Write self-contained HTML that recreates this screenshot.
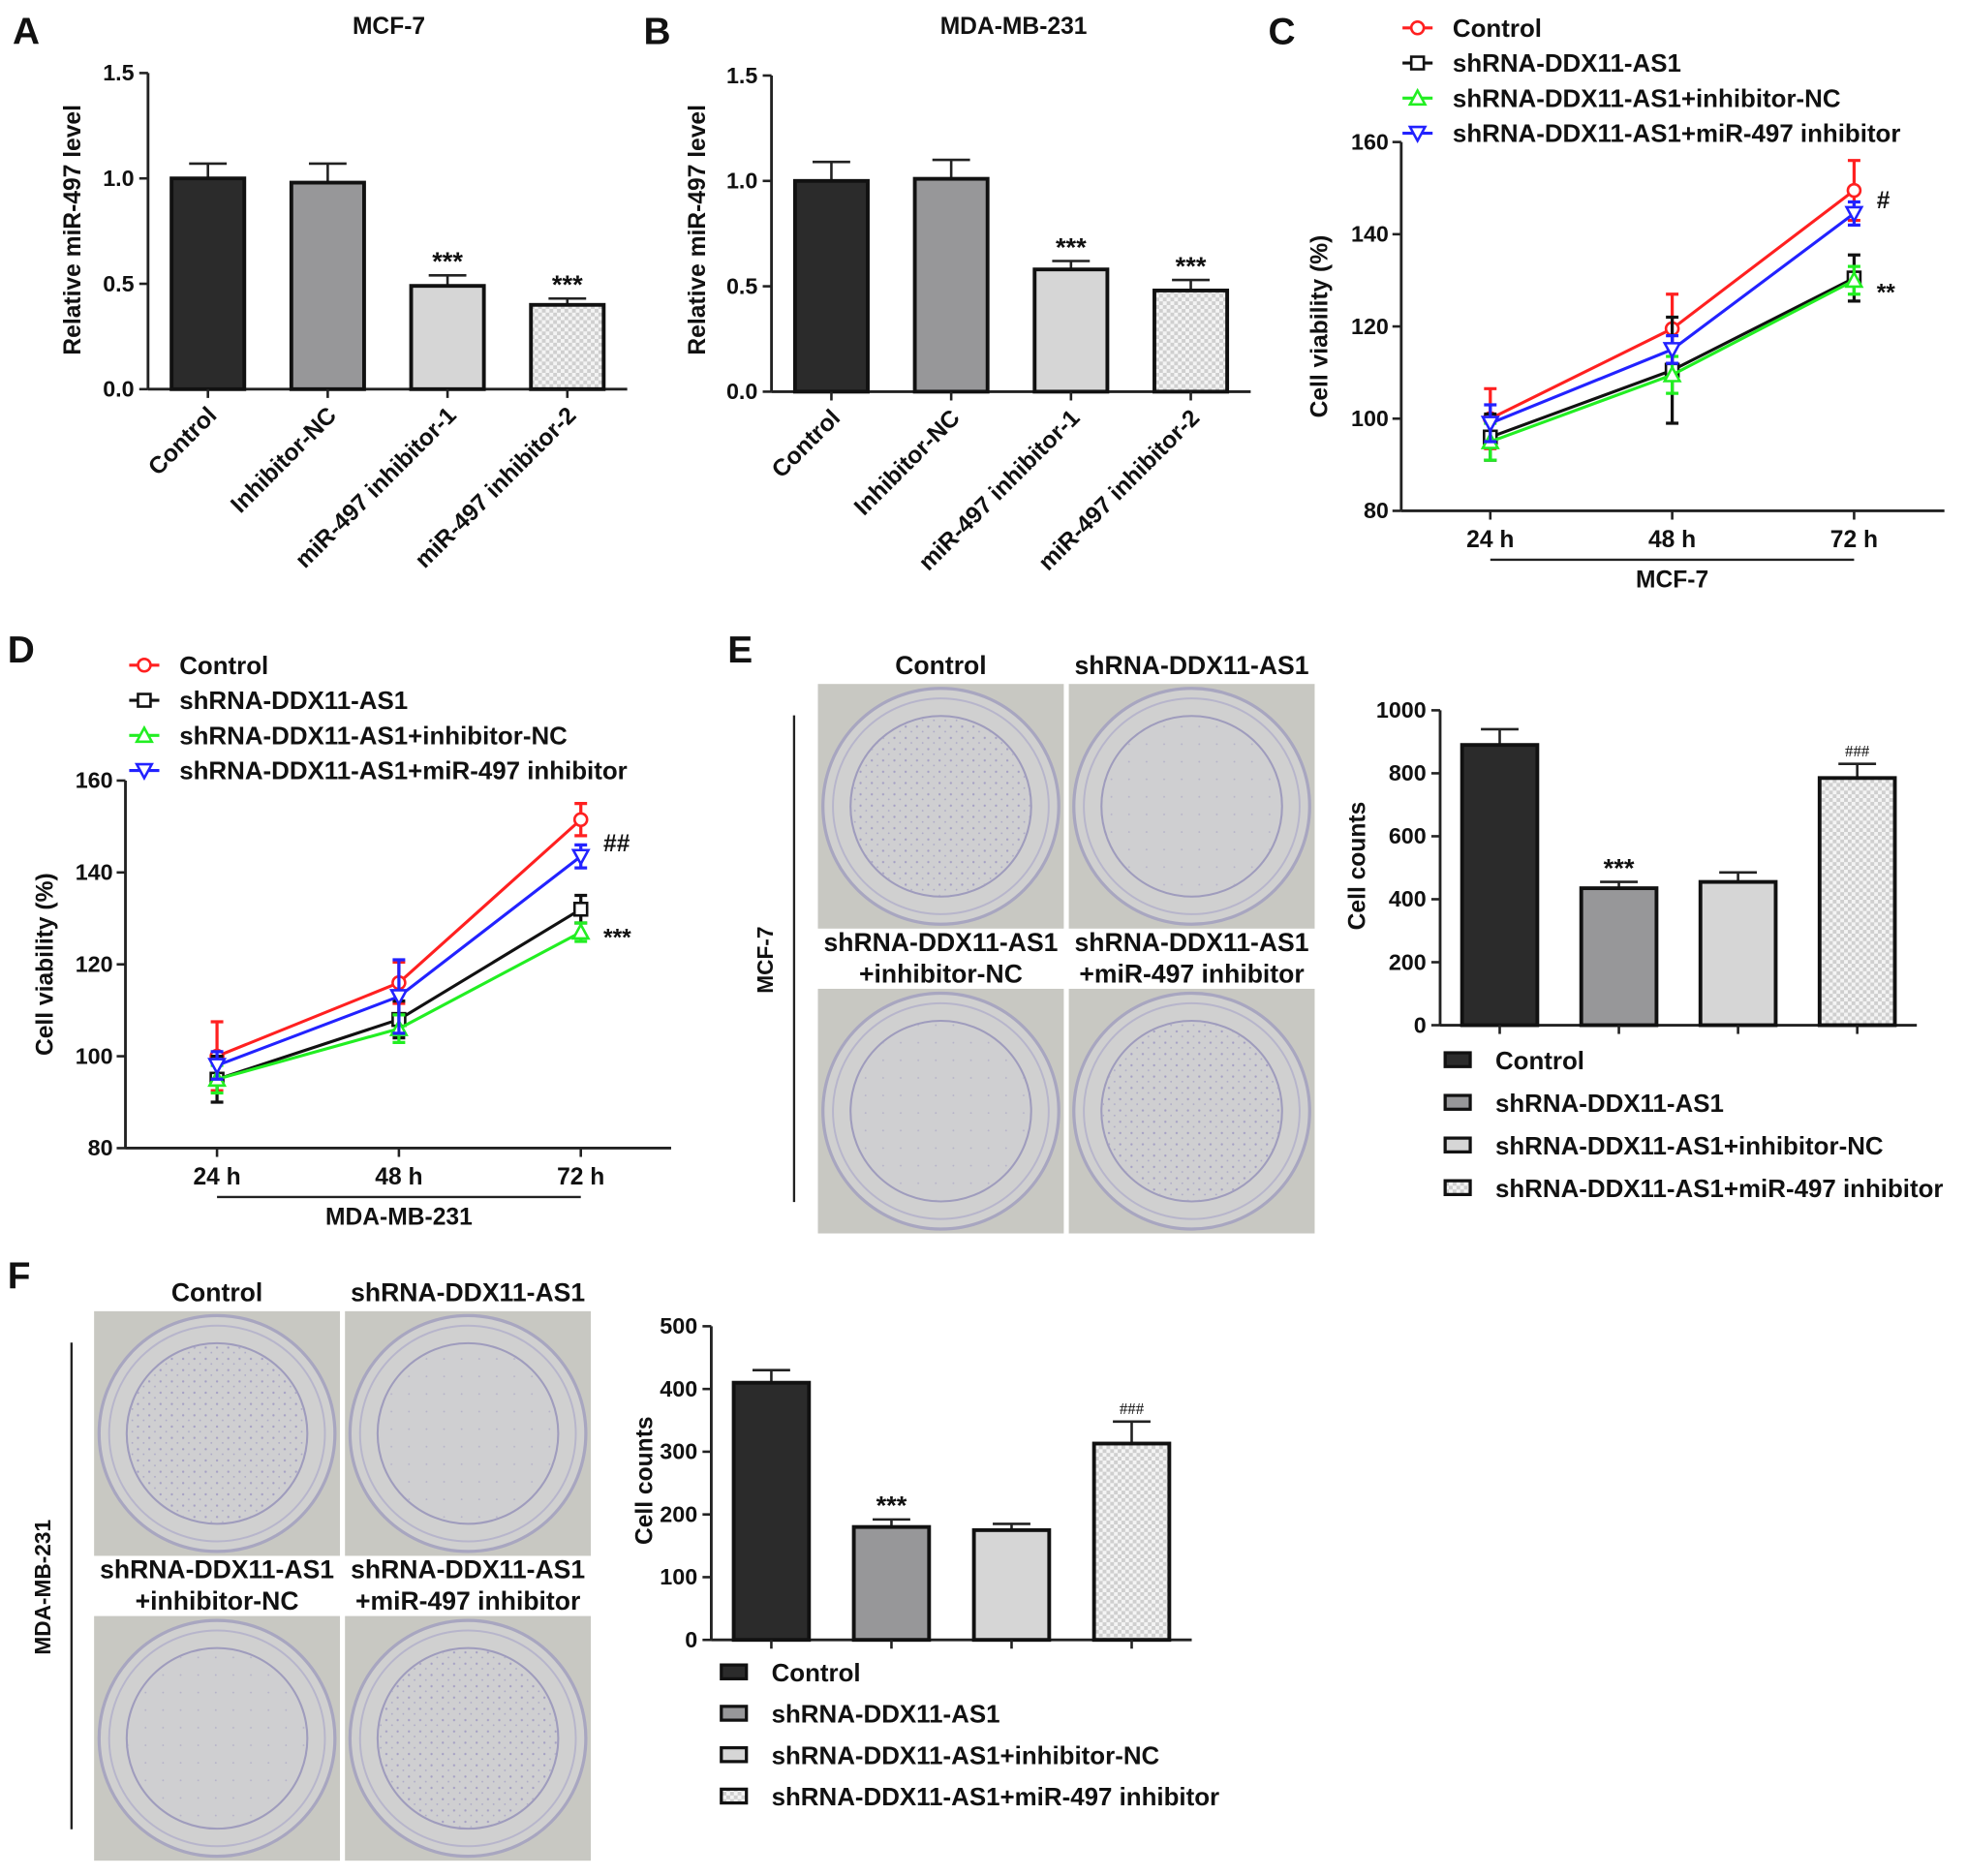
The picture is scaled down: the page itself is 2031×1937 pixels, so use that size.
<!DOCTYPE html>
<html><head><meta charset="utf-8">
<style>
html,body{margin:0;padding:0;background:#fff;}
svg{display:block;font-family:"Liberation Sans",Arial,sans-serif;font-weight:bold;}
</style></head>
<body>
<svg id="fig" width="2031" height="1937" viewBox="0 0 1568 1495" xmlns="http://www.w3.org/2000/svg">
<defs>
<pattern id="check" width="6" height="6" patternUnits="userSpaceOnUse">
<rect width="6" height="6" fill="#f4f4f4"/><rect width="3" height="3" fill="#cfcfcf"/><rect x="3" y="3" width="3" height="3" fill="#cfcfcf"/>
</pattern>
<pattern id="dots" width="9" height="9" patternUnits="userSpaceOnUse">
<circle cx="2" cy="3" r="0.9" fill="#7b72b8" opacity="0.5"/><circle cx="6.5" cy="7" r="0.7" fill="#7b72b8" opacity="0.4"/>
</pattern>
<pattern id="dotsLight" width="14" height="14" patternUnits="userSpaceOnUse">
<circle cx="4" cy="5" r="0.7" fill="#7b72b8" opacity="0.3"/>
</pattern>
</defs>
<g id="root"></g>
</svg>
<script>
// ---------- Panel A / B data ----------
const abCategories = ["Control","Inhibitor-NC","miR-497 inhibitor-1","miR-497 inhibitor-2"];
const aValues = [1.0, 0.98, 0.49, 0.40];
const aErrors = [0.07, 0.09, 0.05, 0.03];
const aMarks = ["", "", "***", "***"];
const bValues = [1.0, 1.01, 0.58, 0.48];
const bErrors = [0.09, 0.09, 0.04, 0.05];
const bMarks = ["", "", "***", "***"];
const abTicks = [0.0, 0.5, 1.0, 1.5];
const abTickLabels = ["0.0","0.5","1.0","1.5"];
// ---------- Panel C / D data ----------
const timeLabels = ["24 h","48 h","72 h"];
const seriesNames = ["Control","shRNA-DDX11-AS1","shRNA-DDX11-AS1+inhibitor-NC","shRNA-DDX11-AS1+miR-497 inhibitor"];
const cControl = [100, 119.5, 149.5];
const cControlErr = [6.5, 7.5, 6.5];
const cSh = [96, 110.5, 130.5];
const cShErr = [5, 11.5, 5];
const cNC = [95, 109.5, 130];
const cNCErr = [4, 4, 3];
const cInh = [99, 115, 144.5];
const cInhErr = [4, 3, 2.5];
const dControl = [100, 116, 151.5];
const dControlErr = [7.5, 4.5, 3.5];
const dSh = [95, 108, 132];
const dShErr = [5, 4, 3];
const dNC = [95, 106, 127];
const dNCErr = [3, 3, 2];
const dInh = [98, 113, 143.5];
const dInhErr = [3, 8, 2.5];
const viabTicks = [80, 100, 120, 140, 160];
// ---------- Panel E / F data ----------
const eValues = [890, 435, 455, 785];
const eErrors = [50, 20, 30, 45];
const eMarks = ["", "***", "", "###"];
const eTicks = [0, 200, 400, 600, 800, 1000];
const fValues = [410, 180, 175, 313];
const fErrors = [20, 12, 10, 35];
const fMarks = ["", "***", "", "###"];
const fTicks = [0, 100, 200, 300, 400, 500];

const NS = "http://www.w3.org/2000/svg";
const root = document.getElementById("root");
function mk(tag, attrs, parent, text) {
  const e = document.createElementNS(NS, tag);
  for (const k in attrs) e.setAttribute(k, attrs[k]);
  if (text !== undefined) e.textContent = text;
  (parent || root).appendChild(e);
  return e;
}
function grp(name, parent) {
  const g = mk("g", {}, parent);
  
  
  return g;
}
function txt(parent, name, x, y, s, size, anchor, extra) {
  const t = mk("text", Object.assign({x: x, y: y, "font-size": size, "text-anchor": anchor || "middle", fill: "#111"}, extra || {}), parent, s);
  
  
  return t;
}
const fills = ["#2b2b2b", "#979799", "#d6d6d6", "url(#check)"];

function barChart(id, opts, values, errors, marks, ticks, tickLabels, cats) {
  const g = grp(id);
  const y = v => opts.y0 + (opts.y1 - opts.y0) * (v - ticks[0]) / (ticks[ticks.length - 1] - ticks[0]);
  const n = values.length;
  const step = (opts.xEnd - opts.x0) / n;
  const ya = mk("line", {x1: opts.x0, y1: y(ticks[ticks.length-1]), x2: opts.x0, y2: opts.y0, stroke: "#222", "stroke-width": 2.2}, g);
   
  ticks.forEach((t, i) => {
    const tk = mk("line", {x1: opts.x0 - 7, y1: y(t), x2: opts.x0, y2: y(t), stroke: "#222", "stroke-width": 2}, g);
     
    txt(g, "y-tick-label", opts.x0 - 11, y(t) + 6, tickLabels[i], 18, "end");
  });
  const xa = mk("line", {x1: opts.x0, y1: opts.y0, x2: opts.xEnd, y2: opts.y0, stroke: "#222", "stroke-width": 2.2}, g);
   
  values.forEach((v, i) => {
    const cx = opts.x0 + step * (i + 0.5) + (opts.shift || 0);
    const bw = opts.bw;
    const top = y(v);
    const eb = mk("line", {x1: cx, y1: y(v + errors[i]), x2: cx, y2: top, stroke: "#222", "stroke-width": 2}, g);
     
    const ec = mk("line", {x1: cx - 15, y1: y(v + errors[i]), x2: cx + 15, y2: y(v + errors[i]), stroke: "#222", "stroke-width": 2}, g);
     
    const r = mk("rect", {x: cx - bw/2, y: top, width: bw, height: opts.y0 - top, fill: fills[i], stroke: "#111", "stroke-width": 3}, g);
     
    const xt = mk("line", {x1: cx, y1: opts.y0, x2: cx, y2: opts.y0 + 7, stroke: "#222", "stroke-width": 2}, g);
     
    if (marks[i]) {
      const small = marks[i].startsWith("#");
      txt(g, "significance-mark", cx, y(v + errors[i]) - (small ? 6 : 4), marks[i], small ? 13 : 21, "middle", small ? {"font-weight": "normal", "font-family": "Liberation Serif, serif"} : {});
    }
    if (cats) {
      txt(g, "x-tick-label", cx + 8, opts.y0 + 22, cats[i], 19, "end", {transform: "rotate(-45 " + (cx + 8) + " " + (opts.y0 + 22) + ")"});
    }
  });
  if (opts.ylabel) {
    txt(g, "y-axis-title", opts.ylx, opts.yly, opts.ylabel, 19, "middle", {transform: "rotate(-90 " + opts.ylx + " " + opts.yly + ")"});
  }
  if (opts.title) txt(g, "chart-title", opts.tx, opts.ty, opts.title, 19);
  if (opts.legendY) {
    values.forEach((v, i) => {
      const ly = opts.legendY + i * opts.legendStep;
      const sw = mk("rect", {x: opts.legendX, y: ly - 6, width: 20, height: 11, fill: fills[i], stroke: "#111", "stroke-width": 2.5}, g);
       
      txt(g, "legend-entry", opts.legendX + 40, ly + 7, seriesNames[i], 20, "start");
    });
  }
  return g;
}

barChart("panel-a-chart", {x0: 118, xEnd: 500, y0: 310, y1: 58, bw: 58, ylabel: "Relative miR-497 level", ylx: 64, yly: 183, title: "MCF-7", tx: 310, ty: 27}, aValues, aErrors, aMarks, abTicks, abTickLabels, abCategories);
barChart("panel-b-chart", {x0: 615, xEnd: 997, y0: 312, y1: 60, bw: 58, ylabel: "Relative miR-497 level", ylx: 562, yly: 183, title: "MDA-MB-231", tx: 808, ty: 27}, bValues, bErrors, bMarks, abTicks, abTickLabels, abCategories);
barChart("panel-e-chart", {x0: 1148, xEnd: 1528, y0: 817, y1: 566, bw: 60, ylabel: "Cell counts", ylx: 1088, yly: 690, legendX: 1152, legendY: 845, legendStep: 34}, eValues, eErrors, eMarks, eTicks, eTicks.map(String), null);
barChart("panel-f-chart", {x0: 567, xEnd: 950, y0: 1307, y1: 1057, bw: 60, ylabel: "Cell counts", ylx: 520, yly: 1180, legendX: 575, legendY: 1333, legendStep: 33}, fValues, fErrors, fMarks, fTicks, fTicks.map(String), null);

const colors = ["#ff2020", "#111111", "#22ee22", "#2222ff"];
function marker(g, kind, x, y, color) {
  let e;
  if (kind === 0) e = mk("circle", {cx: x, cy: y, r: 5, fill: "#fff", stroke: color, "stroke-width": 2}, g);
  else if (kind === 1) e = mk("rect", {x: x - 5, y: y - 5, width: 10, height: 10, fill: "#fff", stroke: color, "stroke-width": 2}, g);
  else if (kind === 2) e = mk("polygon", {points: (x) + "," + (y - 6) + " " + (x - 6) + "," + (y + 5) + " " + (x + 6) + "," + (y + 5), fill: "#fff", stroke: color, "stroke-width": 2}, g);
  else e = mk("polygon", {points: (x) + "," + (y + 6) + " " + (x - 6) + "," + (y - 5) + " " + (x + 6) + "," + (y - 5), fill: "#fff", stroke: color, "stroke-width": 2}, g);
   
}
function lineChart(id, o, series, errs, notes) {
  const g = grp(id);
  const y = v => o.y0 + (o.y1 - o.y0) * (v - viabTicks[0]) / (viabTicks[viabTicks.length - 1] - viabTicks[0]);
  const x = i => o.xs + i * o.dx;
  const ya = mk("line", {x1: o.x0, y1: o.y1, x2: o.x0, y2: o.y0, stroke: "#222", "stroke-width": 2.2}, g);
   
  const xa = mk("line", {x1: o.x0, y1: o.y0, x2: o.xEnd, y2: o.y0, stroke: "#222", "stroke-width": 2.2}, g);
   
  viabTicks.forEach(t => {
    const tk = mk("line", {x1: o.x0 - 7, y1: y(t), x2: o.x0, y2: y(t), stroke: "#222", "stroke-width": 2}, g);
     
    txt(g, "y-tick-label", o.x0 - 10, y(t) + 6, String(t), 18, "end");
  });
  timeLabels.forEach((l, i) => {
    const tk = mk("line", {x1: x(i), y1: o.y0, x2: x(i), y2: o.y0 + 7, stroke: "#222", "stroke-width": 2}, g);
     
    txt(g, "x-tick-label", x(i), o.y0 + 29, l, 19);
  });
  const br = mk("line", {x1: x(0), y1: o.y0 + 39, x2: x(2), y2: o.y0 + 39, stroke: "#222", "stroke-width": 1.8}, g);
   
  txt(g, "x-axis-title", (x(0) + x(2)) / 2, o.y0 + 61, o.xlabel, 19);
  txt(g, "y-axis-title", o.ylx, (o.y0 + o.y1) / 2, "Cell viability (%)", 19, "middle", {transform: "rotate(-90 " + o.ylx + " " + ((o.y0 + o.y1) / 2) + ")"});
  series.forEach((s, k) => {
    const pts = s.map((v, i) => x(i) + "," + y(v)).join(" ");
    const pl = mk("polyline", {points: pts, fill: "none", stroke: colors[k], "stroke-width": 2.4}, g);
     
    s.forEach((v, i) => {
      const e = errs[k][i];
      const eb = mk("path", {d: "M" + x(i) + "," + y(v - e) + "V" + y(v + e) + "M" + (x(i) - 5) + "," + y(v + e) + "h10M" + (x(i) - 5) + "," + y(v - e) + "h10", stroke: colors[k], "stroke-width": 2.5, fill: "none"}, g);
       
      marker(g, k, x(i), y(v), colors[k]);
    });
    const ly = o.legY + k * 28;
    const ll = mk("line", {x1: o.legX, y1: ly, x2: o.legX + 24, y2: ly, stroke: colors[k], "stroke-width": 2.4}, g);
     
    marker(g, k, o.legX + 12, ly, colors[k]);
    txt(g, "legend-entry", o.legX + 40, ly + 7, seriesNames[k], 20, "start");
  });
  notes.forEach(n => txt(g, "significance-mark", x(2) + 18, y(n[1]) + 7, n[0], 19, "start"));
}
lineChart("panel-c-chart", {x0: 1117, xEnd: 1550, y0: 407, y1: 113, xs: 1188, dx: 145, ylx: 1058, xlabel: "MCF-7", legX: 1118, legY: 22},
  [cControl, cSh, cNC, cInh], [cControlErr, cShErr, cNCErr, cInhErr], [["#", cInh[2] + 3], ["**", cSh[2] - 3]]);
lineChart("panel-d-chart", {x0: 100, xEnd: 535, y0: 915, y1: 622, xs: 173, dx: 145, ylx: 42, xlabel: "MDA-MB-231", legX: 103, legY: 530},
  [dControl, dSh, dNC, dInh], [dControlErr, dShErr, dNCErr, dInhErr], [["##", dInh[2] + 3], ["***", dNC[2] - 1]]);

[["A", 10, 35], ["B", 513, 35], ["C", 1011, 35], ["D", 6, 528], ["E", 580, 528], ["F", 6, 1027]].forEach(p => {
  txt(root, "panel-label-" + p[0].toLowerCase(), p[1], p[2], p[0], 30, "start");
});

function plates(id, x0, y0, labelsTop, labelsMid, sideLabel, lineX, density) {
  const g = grp(id);
  const W = 196, H = 195;
  const pos = [[x0, y0], [x0 + 200, y0], [x0, y0 + 243], [x0 + 200, y0 + 243]];
  pos.forEach((p, i) => {
    const pg = grp("colony-plate-" + i, g);
    mk("rect", {x: p[0], y: p[1], width: W, height: H, fill: "#c8c8c2"}, pg);
    const cx = p[0] + W / 2, cy = p[1] + H / 2;
    mk("circle", {cx: cx, cy: cy, r: 94, fill: "#d0d0d0", stroke: "#a8a6c0", "stroke-width": 2.5}, pg);
    mk("circle", {cx: cx, cy: cy, r: 86, fill: "none", stroke: "#b7b5cb", "stroke-width": 1.5}, pg);
    mk("circle", {cx: cx, cy: cy, r: 72, fill: "#cfcfd1", stroke: "#9f9cbd", "stroke-width": 1.6}, pg);
    mk("circle", {cx: cx, cy: cy, r: 71, fill: density[i] ? "url(#dots)" : "url(#dotsLight)"}, pg);
  });
  txt(g, "plate-label", x0 + 98, y0 - 8, labelsTop[0], 20.5);
  txt(g, "plate-label", x0 + 298, y0 - 8, labelsTop[1], 20.5);
  txt(g, "plate-label", x0 + 98, y0 + 213, labelsMid[0][0], 20.5);
  txt(g, "plate-label", x0 + 98, y0 + 238, labelsMid[0][1], 20.5);
  txt(g, "plate-label", x0 + 298, y0 + 213, labelsMid[1][0], 20.5);
  txt(g, "plate-label", x0 + 298, y0 + 238, labelsMid[1][1], 20.5);
  const vl = mk("line", {x1: lineX, y1: y0 + 25, x2: lineX, y2: y0 + 413, stroke: "#222", "stroke-width": 1.8}, g);
   
  const sx = lineX - 17, sy = y0 + 220;
  txt(g, "cell-line-label", sx, sy, sideLabel, 17.5, "middle", {transform: "rotate(-90 " + sx + " " + sy + ")"});
}
plates("panel-e-plates", 652, 545, ["Control", "shRNA-DDX11-AS1"], [["shRNA-DDX11-AS1", "+inhibitor-NC"], ["shRNA-DDX11-AS1", "+miR-497 inhibitor"]], "MCF-7", 633, [true, false, false, true]);
plates("panel-f-plates", 75, 1045, ["Control", "shRNA-DDX11-AS1"], [["shRNA-DDX11-AS1", "+inhibitor-NC"], ["shRNA-DDX11-AS1", "+miR-497 inhibitor"]], "MDA-MB-231", 57, [true, false, false, true]);
</script>
</body></html>
